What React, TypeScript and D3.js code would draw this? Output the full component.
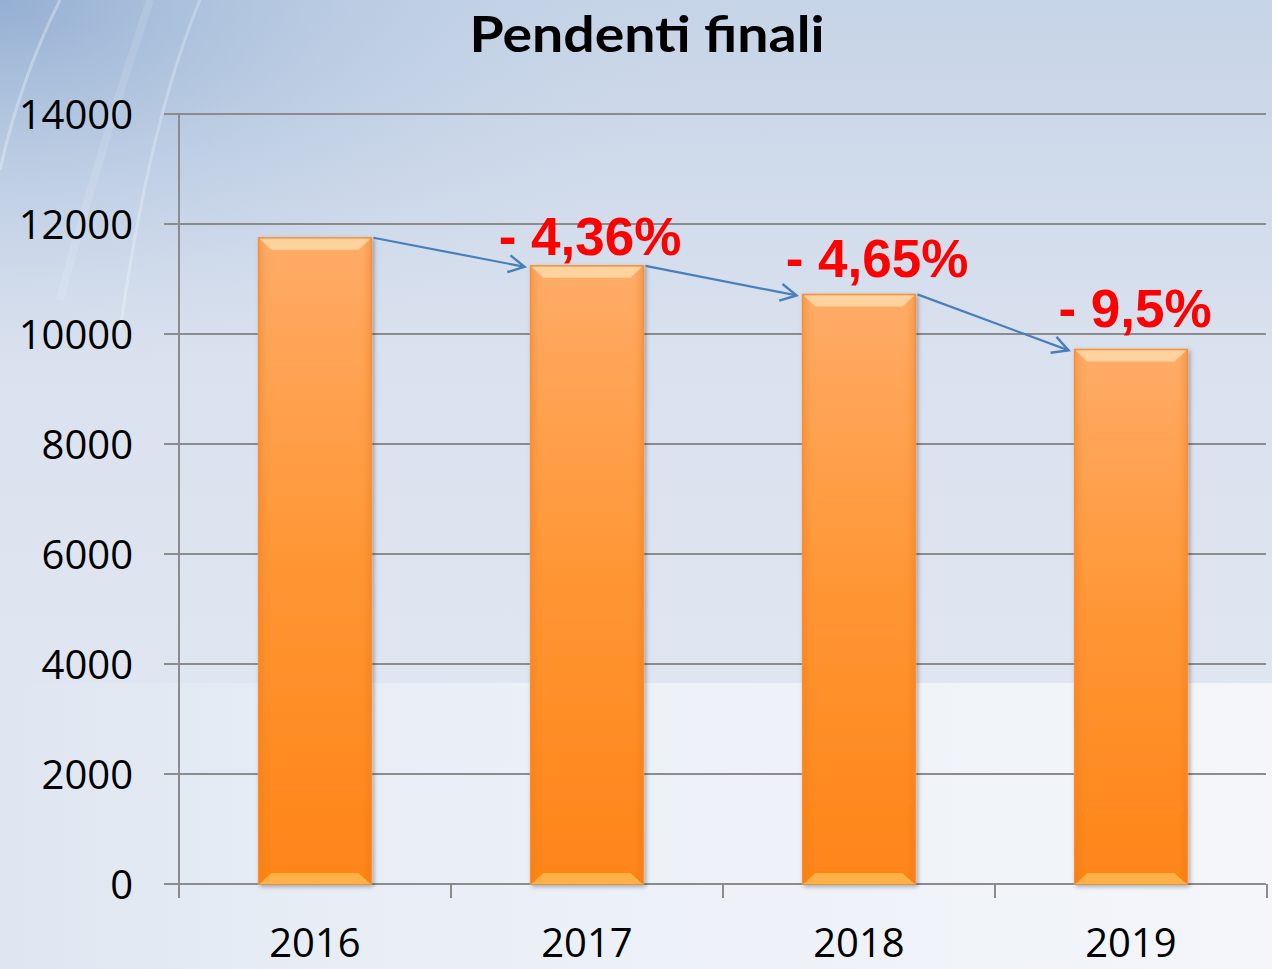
import React from 'react';
import * as d3 from 'd3';

const title = 'Pendenti finali';
const years = ['2016', '2017', '2018', '2019'];
const pendenti = [11750, 11240, 10720, 9720];
const variazioni = ['- 4,36%', '- 4,65%', '- 9,5%'];
const yTicks = [0, 2000, 4000, 6000, 8000, 10000, 12000, 14000];

const W = 1272;
const H = 969;
const LEFT = 179;
const RIGHT = 1267;
const BOTTOM = 884;
const TOP = 114;
const LABEL_DX = [3, 18, 4];
const LABEL_DY = [-11, -17, -22];

export default function App() {
  const x = d3.scaleBand<string>().domain(years).range([LEFT, RIGHT]).paddingInner(0.585).paddingOuter(0.2925);
  const y = d3.scaleLinear().domain([0, 14000]).range([BOTTOM, TOP]);
  const bw = x.bandwidth();
  const tickFont = "'Open Sans', 'DejaVu Sans', sans-serif";

  return (
    <svg width={W} height={H} style={{ position: 'fixed', left: 0, top: 0, display: 'block' }}>
      <defs>
        <linearGradient id="bgTop" x1="0" y1="0" x2="0" y2="1">
          <stop offset="0" stopColor="#c6d4e7" />
          <stop offset="0.55" stopColor="#dbe2ef" />
          <stop offset="1" stopColor="#dfe6f1" />
        </linearGradient>
        <radialGradient id="corner" cx="0" cy="0" r="0.55" gradientUnits="objectBoundingBox">
          <stop offset="0" stopColor="#8fabd0" stopOpacity="0.9" />
          <stop offset="0.5" stopColor="#a8bfdc" stopOpacity="0.4" />
          <stop offset="1" stopColor="#c6d4e7" stopOpacity="0" />
        </radialGradient>
        <linearGradient id="bgBottom" x1="0" y1="0" x2="1" y2="0">
          <stop offset="0" stopColor="#dfe6f1" />
          <stop offset="0.3" stopColor="#e9eef6" />
          <stop offset="1" stopColor="#f4f6fa" />
        </linearGradient>
        <linearGradient id="barFill" x1="0" y1="0" x2="0" y2="1">
          <stop offset="0" stopColor="#ffab68" />
          <stop offset="0.5" stopColor="#ff9634" />
          <stop offset="1" stopColor="#ff8418" />
        </linearGradient>
        <linearGradient id="barSide" x1="0" y1="0" x2="1" y2="0">
          <stop offset="0" stopColor="#e06a00" stopOpacity="0.25" />
          <stop offset="0.08" stopColor="#e06a00" stopOpacity="0" />
          <stop offset="0.92" stopColor="#e06a00" stopOpacity="0" />
          <stop offset="1" stopColor="#e06a00" stopOpacity="0.25" />
        </linearGradient>
        <filter id="shadow" x="-10%" y="-5%" width="130%" height="115%">
          <feDropShadow dx="2" dy="2" stdDeviation="2" floodColor="#000" floodOpacity="0.3" />
        </filter>
        <marker id="arrow" markerUnits="userSpaceOnUse" markerWidth="24" markerHeight="24" refX="18" refY="10" orient="auto">
          <path d="M2,1.5 L18,10 L2,18.5" fill="none" stroke="#4a7ebb" strokeWidth="2.4" />
        </marker>
      </defs>

      {/* background */}
      <rect x={0} y={0} width={W} height={683} fill="url(#bgTop)" />
      <rect x={0} y={0} width={W} height={683} fill="url(#corner)" />
      <rect x={0} y={683} width={W} height={H - 683} fill="url(#bgBottom)" />
      <path d="M60,0 Q20,80 0,170" fill="none" stroke="#ffffff" strokeOpacity="0.3" strokeWidth="3" />
      <path d="M200,0 Q150,120 120,330" fill="none" stroke="#ffffff" strokeOpacity="0.25" strokeWidth="3" />
      <path d="M150,0 Q100,150 60,300" fill="none" stroke="#ffffff" strokeOpacity="0.12" strokeWidth="8" />

      {/* title */}
      <text x={647} y={52} textAnchor="middle" fontFamily="Lato, 'Open Sans', sans-serif" fontWeight="bold" fontSize={50}
        textLength={355} lengthAdjust="spacingAndGlyphs" fill="#000">{title}</text>

      {/* gridlines and y ticks */}
      {yTicks.map((t) => (
        <g key={t}>
          <line x1={164} x2={1266} y1={y(t)} y2={y(t)} stroke="#8c8c8c" strokeWidth={2} />
          <text x={133} y={y(t) + 15} textAnchor="end" fontFamily={tickFont} fontSize={40} fill="#000">{t}</text>
        </g>
      ))}
      <line x1={LEFT} x2={LEFT} y1={TOP} y2={898} stroke="#8c8c8c" strokeWidth={2} />
      {[...years.map((yr) => x(yr)! - (x.step() - bw) / 2), RIGHT].slice(1).map((px, i) => (
        <line key={i} x1={px} x2={px} y1={BOTTOM} y2={898} stroke="#8c8c8c" strokeWidth={2} />
      ))}

      {/* bars */}
      {years.map((yr, i) => {
        const bx = x(yr)!;
        const by = y(pendenti[i]);
        const bh = BOTTOM - by;
        return (
          <g key={yr}>
            <rect x={bx} y={by} width={bw} height={bh} fill="url(#barFill)" stroke="#f79646" strokeWidth={1.5} filter="url(#shadow)" />
            <rect x={bx} y={by} width={bw} height={bh} fill="url(#barSide)" />
            <path d={`M${bx + 1},${by + 1} L${bx + bw - 1},${by + 1} L${bx + bw - 13},${by + 12} L${bx + 13},${by + 12} Z`} fill="#ffd9a8" fillOpacity="0.85" />
            <path d={`M${bx + 1},${BOTTOM} L${bx + bw - 1},${BOTTOM} L${bx + bw - 13},${BOTTOM - 11} L${bx + 13},${BOTTOM - 11} Z`} fill="#ffb64a" fillOpacity="0.9" />
          </g>
        );
      })}

      {/* arrows */}
      {variazioni.map((v, i) => {
        const sx = x(years[i])! + bw + 2;
        const sy = y(pendenti[i]);
        const ex = x(years[i + 1])! - 6;
        const ey = y(pendenti[i + 1]) + 1;
        return <line key={v} x1={sx} y1={sy} x2={ex} y2={ey} stroke="#4a7ebb" strokeWidth={2.2} markerEnd="url(#arrow)" />;
      })}

      {/* variation labels */}
      {variazioni.map((v, i) => (
        <text key={v} x={x(years[i + 1])! + bw / 2 + LABEL_DX[i]} y={y(pendenti[i + 1]) + LABEL_DY[i]} textAnchor="middle"
          fontFamily="'Liberation Sans', Arial, sans-serif" fontWeight="bold" fontSize={53} fill="#ff0000">{v}</text>
      ))}

      {/* x labels */}
      {years.map((yr) => (
        <text key={yr} x={x(yr)! + bw / 2} y={957} textAnchor="middle" fontFamily={tickFont} fontSize={40} fill="#000">{yr}</text>
      ))}
    </svg>
  );
}
